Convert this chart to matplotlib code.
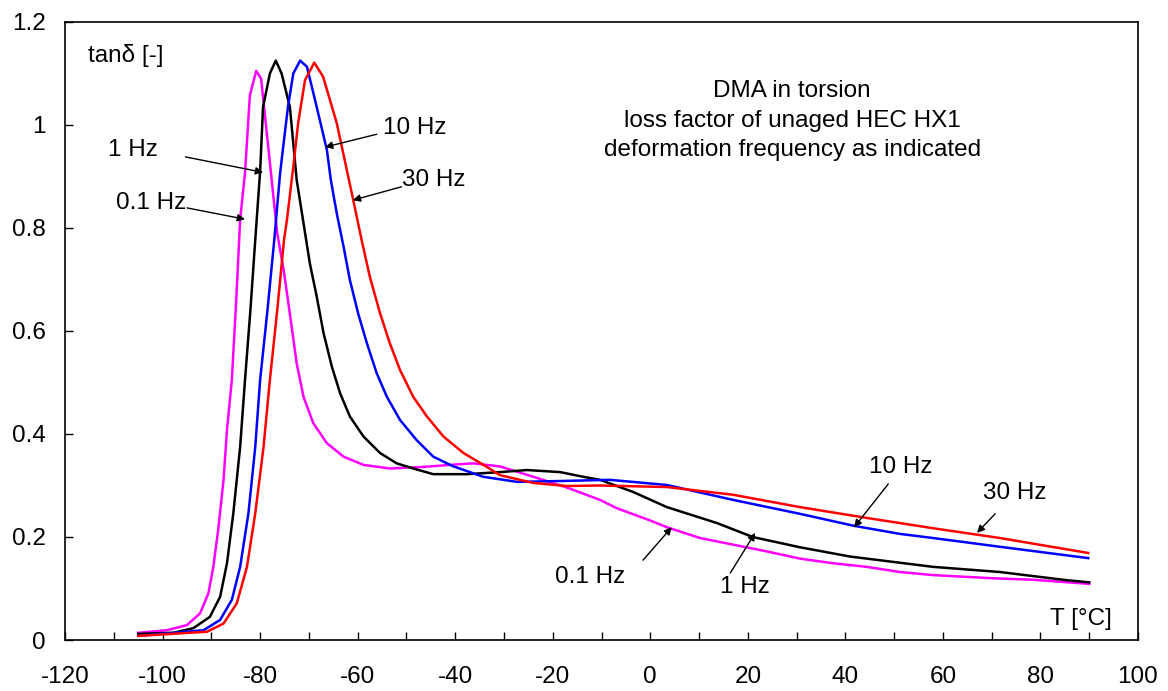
import matplotlib
matplotlib.use("Agg")
import matplotlib.pyplot as plt
from matplotlib.ticker import MultipleLocator, FuncFormatter

plt.rcParams['font.family'] = ['Liberation Sans', 'DejaVu Sans']
FS = 17.5

# loss factor tan(delta) vs temperature, one curve per frequency
t_01hz = [-105, -99.1, -95.0, -92.3, -90.6, -89.6, -88.6, -87.5, -86.8, -85.8, -84.9, -84.1,
          -83.1, -82.1, -80.8, -79.8, -78.2, -76.5, -75.2, -74.0, -72.5, -71.1, -69.1, -66.3,
          -62.9, -58.8, -53.4, -46.6, -39.7, -36.3, -30.8, -24, -17.1, -10.3, -6.9, 0, 3.4,
          10.2, 23.9, 30.7, 37.5, 44.4, 51.2, 58, 70, 78.5, 90]
tan_01hz = [0.014, 0.019, 0.029, 0.052, 0.091, 0.142, 0.214, 0.311, 0.408, 0.505, 0.66, 0.816,
            0.907, 1.058, 1.105, 1.09, 0.945, 0.79, 0.72, 0.64, 0.537, 0.472, 0.421, 0.382,
            0.356, 0.340, 0.333, 0.336, 0.341, 0.343, 0.337, 0.317, 0.296, 0.272, 0.256, 0.232, 0.219,
            0.198, 0.172, 0.158, 0.149, 0.142, 0.132, 0.126, 0.120, 0.117, 0.109]

t_1hz = [-105, -97.8, -93.7, -90.3, -88.2, -86.8, -85.5, -84.1, -83.1, -82.0, -81, -80, -79.4,
         -78, -76.8, -75.6, -73.9, -72.5, -71.1, -69.8, -68.4, -67.0, -65.3, -63.6, -61.6,
         -58.8, -55.4, -52.0, -48.6, -44.5, -37.6, -30.8, -25.3, -18.5, -13.8, -10.3, -3.4,
         3.4, 13.7, 21, 30.7, 41, 51.2, 58, 71.7, 85.5, 90]
tan_1hz = [0.012, 0.014, 0.023, 0.045, 0.084, 0.149, 0.246, 0.375, 0.505, 0.64, 0.777, 0.91, 1.035,
           1.10, 1.125, 1.10, 1.035, 0.893, 0.809, 0.731, 0.667, 0.596, 0.531, 0.479, 0.434,
           0.395, 0.363, 0.343, 0.333, 0.322, 0.322, 0.326, 0.330, 0.326, 0.317, 0.311, 0.287,
           0.258, 0.227, 0.2, 0.180, 0.162, 0.150, 0.142, 0.132, 0.116, 0.112]

t_10hz = [-105, -91.6, -88.2, -85.8, -84.1, -82.4, -81.0, -80.0, -78.5, -77.1, -75.9, -74.3,
          -73.2, -71.8, -70.4, -68.4, -66.3, -65.5, -64.3, -62.9, -61.6, -59.9, -58.1, -56.1,
          -54.0, -51.3, -47.9, -44.5, -40.6, -34.3, -27.3, -17.1, -8.3, 3.4, 17, 30.7, 41.6,
          51.2, 58, 71.7, 89.8]
tan_10hz = [0.008, 0.019, 0.039, 0.078, 0.142, 0.246, 0.375, 0.505, 0.64, 0.777, 0.907, 1.035,
            1.10, 1.125, 1.113, 1.035, 0.951, 0.893, 0.829, 0.764, 0.699, 0.634, 0.576, 0.518,
            0.472, 0.427, 0.388, 0.356, 0.338, 0.317, 0.307, 0.309, 0.311, 0.301, 0.272, 0.245, 0.222,
            0.206, 0.198, 0.181, 0.159]

t_30hz = [-105, -90.9, -87.5, -84.8, -82.7, -81.0, -79.3, -78.0, -76.5, -75.1, -74.5, -73.2,
          -72.2, -70.8, -68.9, -67.1, -64.3, -60.9, -59.2, -57.5, -55.4, -53.4, -51.3, -48.6,
          -45.8, -42.4, -38.3, -34.2, -30.8, -24, -17.1, -10.3, 3.4, 17, 30.7, 44.4, 58,
          71.7, 89.8]
tan_30hz = [0.008, 0.016, 0.032, 0.071, 0.142, 0.246, 0.375, 0.505, 0.64, 0.777, 0.816, 0.919,
            1.004, 1.087, 1.121, 1.094, 1.004, 0.854, 0.777, 0.705, 0.634, 0.576, 0.524, 0.472,
            0.434, 0.395, 0.363, 0.340, 0.320, 0.305, 0.299, 0.300, 0.297, 0.282, 0.258, 0.237, 0.217,
            0.198, 0.169]

series = [
    (t_01hz, tan_01hz, '#FF00FF'),
    (t_1hz, tan_1hz, 'black'),
    (t_10hz, tan_10hz, '#0000FF'),
    (t_30hz, tan_30hz, '#FF0000'),
]

# label text, text position, arrow start, arrow tip
labels = [
    ('1 Hz', (-106.1, 0.951), (-95.3, 0.938), (-79.4, 0.908)),
    ('0.1 Hz', (-102.3, 0.849), (-95.0, 0.839), (-83.1, 0.817)),
    ('10 Hz', (-48.3, 0.994), (-56.1, 0.982), (-66.7, 0.957)),
    ('30 Hz', (-44.3, 0.893), (-51.0, 0.880), (-61.0, 0.854)),
    ('0.1 Hz', (-12.25, 0.122), (-1.5, 0.155), (4.4, 0.219)),
    ('1 Hz', (19.4, 0.103), (16.4, 0.130), (21.5, 0.208)),
    ('10 Hz', (51.3, 0.336), (48.8, 0.303), (41.8, 0.219)),
    ('30 Hz', (74.8, 0.285), (70.7, 0.245), (67.0, 0.208)),
]

fig = plt.figure(figsize=(11.68, 6.91), dpi=100)
ax = fig.add_axes([0.0557, 0.0738, 0.9186, 0.8944])

for t, tan, c in series:
    ax.plot(t, tan, color=c, lw=1.8, solid_joinstyle='round')

for txt, pos, start, tip in labels:
    ax.text(pos[0], pos[1], txt, fontsize=FS, ha='center', va='center')
    ax.annotate('', xy=tip, xytext=start,
                arrowprops=dict(arrowstyle='-|>', color='black', lw=1.0,
                                mutation_scale=11, shrinkA=0, shrinkB=0))

ax.text(-115.3, 1.122, 'tanδ [-]', fontsize=FS, ha='left', va='baseline')
ax.text(94.7, 0.029, 'T [°C]', fontsize=FS, ha='right', va='baseline')

for y, line in zip([1.055, 0.997, 0.940],
                   ['DMA in torsion', 'loss factor of unaged HEC HX1',
                    'deformation frequency as indicated']):
    ax.text(29.1, y, line, fontsize=FS, ha='center', va='baseline')

ax.set_xlim(-120, 100)
ax.set_ylim(0, 1.2)
ax.xaxis.set_major_locator(MultipleLocator(20))
ax.xaxis.set_minor_locator(MultipleLocator(10))
ax.yaxis.set_major_locator(MultipleLocator(0.2))
ax.yaxis.set_major_formatter(FuncFormatter(lambda v, p: '%g' % round(v, 1)))
ax.xaxis.set_major_formatter(FuncFormatter(lambda v, p: '%g' % v))

ax.tick_params(axis='both', which='both', direction='in', length=6, width=1,
               labelsize=FS, top=False, right=False)
ax.tick_params(axis='x', which='major', pad=19)
ax.tick_params(axis='y', which='major', pad=14)
for s in ax.spines.values():
    s.set_linewidth(1.2)

fig.savefig('out.png', dpi=100)
